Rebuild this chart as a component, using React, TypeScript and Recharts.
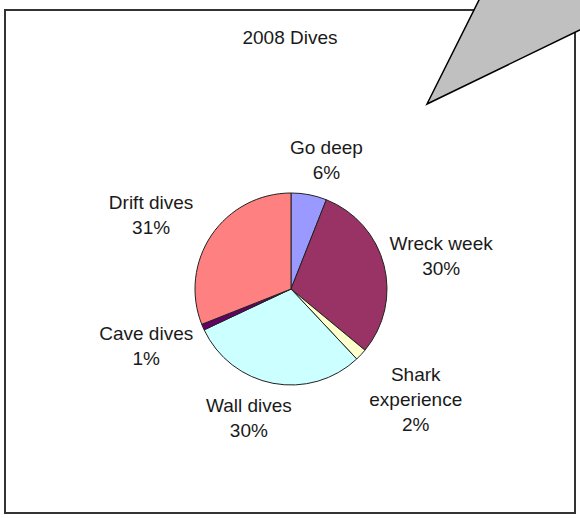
import React from 'react';
import { Cell, Pie, PieChart } from 'recharts';

const categories = ['Go deep', 'Wreck week', 'Shark experience', 'Wall dives', 'Cave dives', 'Drift dives'];
const shares = [6, 30, 2, 30, 1, 31];
const sliceColors = ['#9999FF', '#993366', '#FFFFCC', '#CCFFFF', '#660066', '#FF8080'];
// how each label is broken over lines, as in the original
const labelLines = [['Go deep'], ['Wreck week'], ['Shark', 'experience'], ['Wall dives'], ['Cave dives'], ['Drift dives']];

const data = categories.map((name, i) => ({ name, value: shares[i] }));

const FONT = 'Arial, "Liberation Sans", sans-serif';
const FS = 19;
const LH = 25;
const RAD = Math.PI / 180;

const clamp = (v: number) => Math.max(-1, Math.min(1, v));

const renderLabel = (props: any) => {
  const { cx, cy, midAngle, outerRadius, index, value } = props;
  const lines = [...labelLines[index], `${value}%`];
  const w = Math.max(...lines.map((l) => l.length)) * 9.5;
  const h = lines.length * LH;
  const dx = Math.cos(-midAngle * RAD);
  const dy = Math.sin(-midAngle * RAD);
  const gap = 10;
  // push the text box outward so its near side sits just off the rim
  const x = cx + (outerRadius + gap) * dx + (w / 2) * clamp(dx * 2.5);
  const y = cy + (outerRadius + gap) * dy + (h / 2) * clamp(dy * (dy > 0 ? 1.5 : 1));
  const top = y - h / 2 + LH / 2;
  return (
    <text x={x} y={top} textAnchor='middle' fontFamily={FONT} fontSize={FS} fill='#1a1a1a'>
      {lines.map((l, i) => (
        <tspan key={i} x={x} y={top + i * LH} dominantBaseline='central'>
          {l}
        </tspan>
      ))}
    </text>
  );
};

const App = () => {
  return (
    <div style={{ position: 'absolute', left: 0, top: 0, width: 580, height: 518, background: '#fff', overflow: 'hidden' }}>
      <div
        style={{
          position: 'absolute',
          left: 4,
          top: 9,
          width: 572,
          height: 505,
          border: '2px solid #333',
          boxSizing: 'border-box',
        }}
      />
      <div
        style={{
          position: 'absolute',
          left: 0,
          top: 28,
          width: 580,
          textAlign: 'center',
          fontFamily: FONT,
          fontSize: FS,
          color: '#1a1a1a',
          lineHeight: '19px',
        }}
      >
        2008 Dives
      </div>
      <div style={{ position: 'absolute', left: 0, top: 0 }}>
        <PieChart width={580} height={518} margin={{ top: 0, right: 0, bottom: 0, left: 0 }}>
          <Pie
            data={data}
            dataKey='value'
            nameKey='name'
            cx={291}
            cy={289}
            outerRadius={96}
            startAngle={90}
            endAngle={-270}
            stroke='#222'
            strokeWidth={1}
            label={renderLabel}
            labelLine={false}
            isAnimationActive={false}
          >
            {data.map((d, i) => (
              <Cell key={d.name} fill={sliceColors[i]} />
            ))}
          </Pie>
        </PieChart>
      </div>
      <svg width={580} height={518} style={{ position: 'absolute', left: 0, top: 0, pointerEvents: 'none' }}>
        <polygon points='427,104 480,-2 584,-2 584,28' fill='#C0C0C0' stroke='#000' strokeWidth={1.5} />
      </svg>
    </div>
  );
};

export default App;
